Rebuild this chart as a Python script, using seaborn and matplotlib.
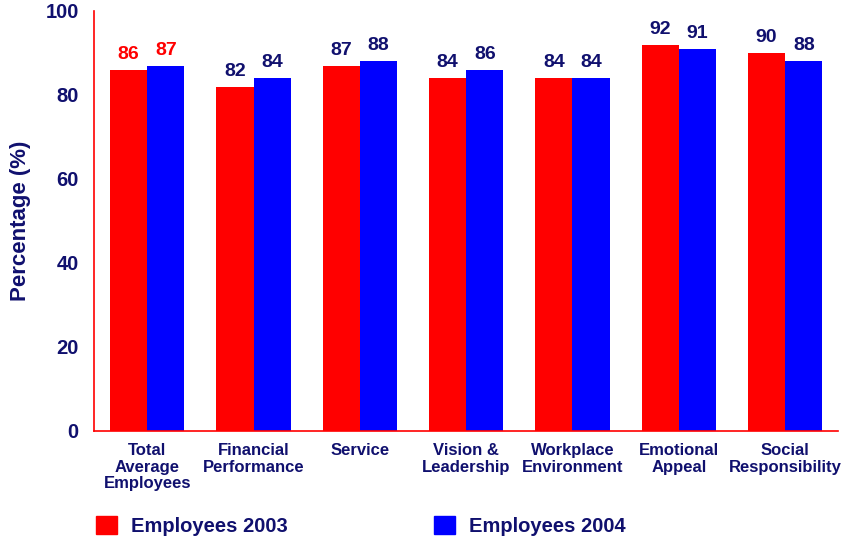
import pandas as pd
import matplotlib.pyplot as plt
import seaborn as sns
from matplotlib.patches import Patch

categories = ['Total\nAverage\nEmployees', 'Financial\nPerformance', 'Service',
              'Vision &\nLeadership', 'Workplace\nEnvironment', 'Emotional\nAppeal',
              'Social\nResponsibility']
values_2003 = [86, 82, 87, 84, 84, 92, 90]
values_2004 = [87, 84, 88, 86, 84, 91, 88]
series = ['Employees 2003', 'Employees 2004']
y_ticks = [0, 20, 40, 60, 80, 100]

NAVY = '#10106e'
RED = '#ff0000'
BLUE = '#0000ff'


def main():
    sns.set_style('white')
    plt.rcParams['font.family'] = ['Liberation Sans', 'DejaVu Sans']
    plt.rcParams['font.weight'] = 'bold'

    df = pd.DataFrame({
        'category': categories * 2,
        'series': [series[0]] * len(categories) + [series[1]] * len(categories),
        'value': values_2003 + values_2004,
    })

    fig = plt.figure(figsize=(8.41, 5.39), dpi=100)
    ax = fig.add_axes([0.1118, 0.2004, 0.885, 0.7792])
    sns.barplot(data=df, x='category', y='value', hue='series',
                palette=[RED, BLUE], width=0.7, saturation=1,
                linewidth=0, legend=False, ax=ax)

    # value labels: first group red, the rest navy
    for container in ax.containers:
        labels = ax.bar_label(container, fmt='%d', padding=5,
                              fontsize=14, fontweight='bold', color=NAVY)
        labels[0].set_color(RED)

    ax.set_xlim(-0.5, len(categories) - 0.5)
    ax.set_ylim(0, 100)
    ax.set_yticks(y_ticks)
    ax.set_yticklabels([str(t) for t in y_ticks], fontsize=14.5,
                       fontweight='bold', color=NAVY)
    ax.set_xticks(range(len(categories)))
    ax.set_xticklabels(categories, fontsize=12, fontweight='bold',
                       color=NAVY, linespacing=1.12)
    ax.set_xticks([i - 0.5 for i in range(len(categories))], minor=True)
    ax.tick_params(axis='x', which='major', length=0, pad=9)
    ax.tick_params(axis='x', which='minor', length=4, color=RED,
                   direction='out')
    ax.tick_params(axis='y', length=6, color=RED, direction='out', pad=5)

    ax.set_xlabel('')
    ax.set_ylabel('Percentage (%)', fontsize=16, fontweight='bold',
                  color=NAVY, labelpad=10)

    for side in ['top', 'right']:
        ax.spines[side].set_visible(False)
    for side in ['left', 'bottom']:
        ax.spines[side].set_color(RED)
        ax.spines[side].set_linewidth(1.2)

    handles = [Patch(facecolor=RED, edgecolor=RED),
               Patch(facecolor=BLUE, edgecolor=BLUE)]
    fig.legend(handles, series, loc='lower left',
               bbox_to_anchor=(0.093, -0.028), ncol=2, frameon=False,
               prop={'size': 14.5, 'weight': 'bold'}, labelcolor=NAVY,
               handlelength=1.05, handleheight=1.05, columnspacing=7.3,
               handletextpad=0.65)

    fig.savefig('out.png', dpi=100)


if __name__ == '__main__':
    main()
